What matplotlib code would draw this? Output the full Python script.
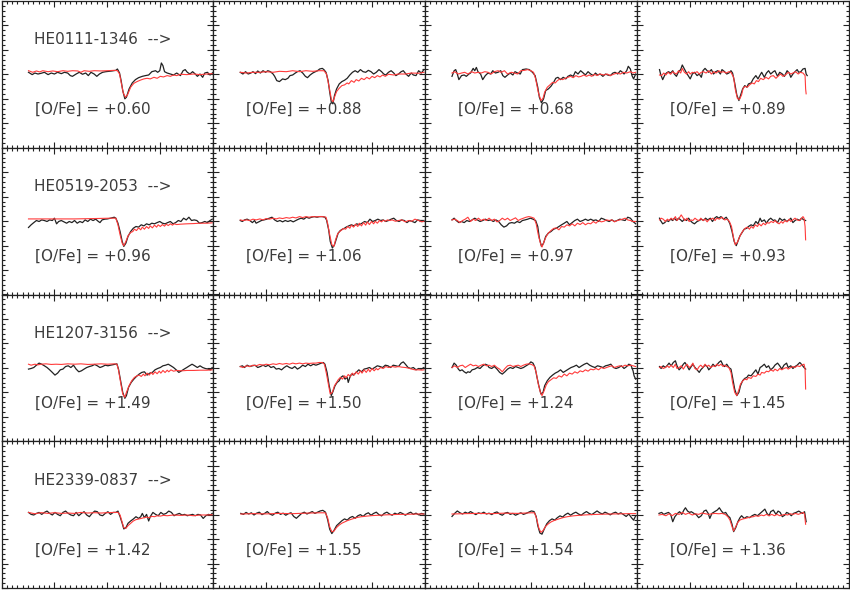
import numpy as np
import matplotlib.pyplot as plt
from matplotlib.ticker import MultipleLocator

stars = ["HE0111-1346", "HE0519-2053", "HE1207-3156", "HE2339-0837"]
ofe = [["+0.60", "+0.88", "+0.68", "+0.89"],
       ["+0.96", "+1.06", "+0.97", "+0.93"],
       ["+1.49", "+1.50", "+1.24", "+1.45"],
       ["+1.42", "+1.55", "+1.54", "+1.36"]]

# observed (black) and synthetic (red) spectra, (x, normalised flux)
obs_r1c1 = [(0.51,1.017),(0.58,0.998),(0.63,1.011),(0.69,1.003),(0.75,1.009),(0.81,1.017),(0.88,0.998),(0.94,1.011),(1.00,1.003),(1.06,1.017),(1.13,1.006),(1.19,1.017),(1.25,1.011),(1.30,0.990),(1.34,0.984),(1.41,1.003),(1.47,1.017),(1.53,1.001),(1.59,1.011),(1.64,0.990),(1.69,1.017),(1.75,1.003),(1.80,0.984),(1.85,1.003),(1.91,1.017),(1.97,1.022),(2.03,1.025),(2.09,1.028),(2.16,1.033),(2.19,1.044),(2.23,1.011),(2.26,0.949),(2.29,0.868),(2.33,0.800),(2.36,0.813),(2.41,0.881),(2.47,0.930),(2.53,0.957),(2.59,0.973),(2.66,0.984),(2.72,0.990),(2.78,0.995),(2.84,1.022),(2.91,1.030),(2.95,1.017),(2.99,1.030),(3.02,1.093),(3.05,1.071),(3.08,1.022),(3.13,1.011),(3.19,1.003),(3.25,0.995),(3.31,1.011),(3.38,0.990),(3.43,1.030),(3.47,1.039),(3.51,1.017),(3.56,1.003),(3.61,1.022),(3.66,1.003),(3.70,0.984),(3.75,1.003),(3.80,0.976),(3.84,1.011),(3.89,1.017),(3.94,0.995),(4.00,1.017)]
syn_r1c1 = [(0.51,1.030),(0.59,1.017),(0.66,1.028),(0.72,1.020),(0.78,1.030),(0.88,1.022),(0.97,1.028),(1.06,1.022),(1.16,1.030),(1.25,1.025),(1.34,1.030),(1.44,1.028),(1.50,1.017),(1.56,1.030),(1.66,1.025),(1.75,1.030),(1.88,1.028),(2.00,1.030),(2.13,1.033),(2.19,1.030),(2.23,1.003),(2.26,0.935),(2.30,0.849),(2.34,0.813),(2.38,0.832),(2.44,0.895),(2.50,0.927),(2.56,0.941),(2.63,0.954),(2.69,0.963),(2.75,0.968),(2.81,0.963),(2.88,0.976),(2.94,0.968),(3.00,0.984),(3.06,0.979),(3.13,0.990),(3.19,0.984),(3.25,0.995),(3.31,0.990),(3.38,1.001),(3.50,0.998),(3.63,1.003),(3.75,0.998),(3.88,1.003),(3.98,1.006)]

obs_r1c2 = [(0.51,1.017),(0.56,1.003),(0.61,1.022),(0.66,1.003),(0.71,1.011),(0.75,1.022),(0.80,1.006),(0.84,1.028),(0.89,1.011),(0.94,1.030),(0.99,1.017),(1.03,1.030),(1.08,1.022),(1.13,1.003),(1.16,0.984),(1.20,0.949),(1.25,0.941),(1.31,0.963),(1.36,0.957),(1.41,0.968),(1.45,0.990),(1.50,0.995),(1.55,1.011),(1.59,1.022),(1.64,1.030),(1.69,1.011),(1.74,0.984),(1.78,0.973),(1.83,0.995),(1.88,1.011),(1.93,1.022),(1.97,1.030),(2.01,1.044),(2.06,1.049),(2.09,1.039),(2.13,1.017),(2.17,0.949),(2.20,0.854),(2.23,0.773),(2.26,0.759),(2.29,0.827),(2.33,0.881),(2.38,0.922),(2.43,0.941),(2.48,0.952),(2.53,0.968),(2.58,0.995),(2.63,1.017),(2.68,1.030),(2.73,1.017),(2.78,1.039),(2.83,1.022),(2.88,1.017),(2.93,1.033),(2.98,1.022),(3.03,1.003),(3.08,1.017),(3.13,1.039),(3.18,1.022),(3.22,1.003),(3.26,0.995),(3.31,1.017),(3.36,1.030),(3.41,1.011),(3.45,0.990),(3.50,1.003),(3.55,1.022),(3.59,1.030),(3.64,1.003),(3.69,0.984),(3.74,1.011),(3.78,0.995),(3.83,0.990),(3.88,1.030),(3.93,1.011),(3.98,1.039)]
syn_r1c2 = [(0.51,1.017),(0.63,1.011),(0.75,1.017),(0.88,1.017),(1.00,1.022),(1.13,1.017),(1.25,1.025),(1.38,1.022),(1.50,1.030),(1.63,1.022),(1.75,1.030),(1.88,1.025),(2.00,1.030),(2.09,1.030),(2.14,1.003),(2.19,0.895),(2.23,0.800),(2.26,0.773),(2.29,0.813),(2.33,0.860),(2.38,0.887),(2.43,0.908),(2.48,0.914),(2.53,0.930),(2.56,0.922),(2.61,0.949),(2.66,0.935),(2.70,0.957),(2.75,0.946),(2.80,0.968),(2.85,0.957),(2.90,0.976),(2.95,0.963),(3.00,0.984),(3.05,0.973),(3.10,0.990),(3.15,0.979),(3.20,0.995),(3.25,0.984),(3.31,1.001),(3.41,0.995),(3.50,1.003),(3.63,1.003),(3.75,1.011),(3.88,1.009),(3.98,1.017)]

obs_r1c3 = [(0.51,0.984),(0.55,1.030),(0.58,1.039),(0.61,1.003),(0.64,0.957),(0.69,0.990),(0.74,0.995),(0.78,0.984),(0.83,1.003),(0.86,1.011),(0.91,1.049),(0.94,1.030),(0.97,1.057),(1.00,1.022),(1.05,1.003),(1.09,0.957),(1.14,0.990),(1.19,1.011),(1.24,1.003),(1.28,1.030),(1.33,1.011),(1.38,1.017),(1.43,1.030),(1.47,0.990),(1.51,0.976),(1.56,0.995),(1.61,1.011),(1.66,0.995),(1.70,1.022),(1.75,1.011),(1.80,1.003),(1.84,1.039),(1.91,1.044),(1.97,1.039),(2.03,1.017),(2.08,0.990),(2.13,0.895),(2.16,0.813),(2.20,0.767),(2.24,0.800),(2.28,0.868),(2.33,0.881),(2.38,0.903),(2.43,0.935),(2.47,0.968),(2.51,0.976),(2.56,0.957),(2.61,0.976),(2.66,0.963),(2.70,0.984),(2.75,0.995),(2.80,0.984),(2.84,1.022),(2.89,1.003),(2.94,1.030),(2.99,1.011),(3.03,0.995),(3.08,1.022),(3.13,1.003),(3.18,0.990),(3.22,1.011),(3.26,0.995),(3.31,1.003),(3.36,0.984),(3.41,1.003),(3.45,0.995),(3.50,0.990),(3.55,1.011),(3.59,1.017),(3.64,1.003),(3.69,1.030),(3.73,1.017),(3.76,1.003),(3.81,1.030),(3.84,1.066),(3.88,1.044),(3.91,0.990),(3.94,0.963),(3.98,1.003)]
syn_r1c3 = [(0.51,1.011),(0.56,1.022),(0.63,1.003),(0.69,1.011),(0.75,1.017),(0.81,1.003),(0.88,1.022),(0.94,1.011),(1.00,1.017),(1.06,1.011),(1.13,1.022),(1.19,1.017),(1.25,1.003),(1.31,1.022),(1.38,1.030),(1.44,1.017),(1.50,1.030),(1.56,1.003),(1.63,1.017),(1.69,1.011),(1.75,1.003),(1.81,1.030),(1.88,1.033),(1.94,1.039),(2.00,1.030),(2.05,1.017),(2.09,0.963),(2.14,0.854),(2.19,0.786),(2.23,0.805),(2.26,0.854),(2.31,0.895),(2.36,0.914),(2.41,0.935),(2.46,0.930),(2.50,0.949),(2.55,0.963),(2.60,0.957),(2.65,0.968),(2.70,0.976),(2.75,0.984),(2.80,0.973),(2.85,0.990),(2.90,0.979),(2.95,0.984),(3.00,0.995),(3.05,0.984),(3.10,0.995),(3.15,0.984),(3.20,1.001),(3.25,0.990),(3.30,1.003),(3.38,0.995),(3.44,1.003),(3.50,0.990),(3.56,1.001),(3.63,1.011),(3.69,1.003),(3.75,1.017),(3.81,1.011),(3.88,1.022),(3.93,1.011),(3.98,1.017)]

obs_r1c4 = [(0.43,1.039),(0.45,1.003),(0.49,0.957),(0.53,0.995),(0.56,1.011),(0.60,1.022),(0.64,1.011),(0.68,1.030),(0.71,1.003),(0.75,0.984),(0.79,1.022),(0.83,1.039),(0.86,1.077),(0.90,1.044),(0.94,1.011),(0.98,0.984),(1.01,0.963),(1.05,1.003),(1.09,1.017),(1.14,0.990),(1.18,1.003),(1.22,0.976),(1.25,1.030),(1.29,1.049),(1.33,1.030),(1.36,1.017),(1.41,1.039),(1.45,1.003),(1.49,1.022),(1.53,1.030),(1.58,1.003),(1.61,1.039),(1.66,1.022),(1.70,1.003),(1.74,1.011),(1.78,1.030),(1.81,1.011),(1.85,0.930),(1.89,0.832),(1.93,0.786),(1.96,0.827),(2.00,0.881),(2.04,0.908),(2.08,0.895),(2.11,0.922),(2.16,0.930),(2.20,0.963),(2.25,0.990),(2.29,0.963),(2.33,0.995),(2.36,1.017),(2.41,0.976),(2.45,1.011),(2.49,1.030),(2.53,1.003),(2.58,1.022),(2.61,1.030),(2.66,0.984),(2.70,1.017),(2.75,1.003),(2.79,0.984),(2.84,1.030),(2.88,1.011),(2.91,0.976),(2.95,1.003),(2.99,1.022),(3.03,1.039),(3.06,1.017),(3.10,1.022),(3.14,1.044),(3.18,1.049),(3.20,1.003),(3.22,0.990)]
syn_r1c4 = [(0.43,0.995),(0.47,0.990),(0.51,1.011),(0.55,0.995),(0.59,1.017),(0.64,1.001),(0.68,1.022),(0.71,1.011),(0.75,1.003),(0.79,1.030),(0.83,1.011),(0.86,1.049),(0.90,1.017),(0.94,1.003),(0.98,1.022),(1.01,1.003),(1.05,1.017),(1.09,1.011),(1.14,1.022),(1.18,1.003),(1.22,1.017),(1.26,1.022),(1.31,1.011),(1.36,1.030),(1.41,1.003),(1.45,1.022),(1.50,1.011),(1.55,1.030),(1.59,1.017),(1.64,1.022),(1.69,1.011),(1.74,1.022),(1.78,1.017),(1.83,0.976),(1.86,0.881),(1.90,0.805),(1.94,0.794),(1.98,0.832),(2.01,0.887),(2.05,0.903),(2.09,0.895),(2.13,0.914),(2.18,0.930),(2.22,0.922),(2.26,0.949),(2.30,0.941),(2.34,0.968),(2.39,0.957),(2.44,0.976),(2.49,0.963),(2.53,0.984),(2.58,0.990),(2.63,0.968),(2.68,0.990),(2.72,1.003),(2.76,0.984),(2.81,0.995),(2.86,1.017),(2.91,1.003),(2.95,1.011),(3.00,1.022),(3.05,1.003),(3.09,1.017),(3.14,1.011),(3.18,0.990),(3.19,0.881),(3.20,0.841)]

obs_r2c1 = [(0.51,0.948),(0.56,0.970),(0.61,0.988),(0.66,1.005),(0.71,0.997),(0.76,1.010),(0.81,1.005),(0.86,0.997),(0.91,1.010),(0.96,1.005),(1.00,1.024),(1.04,0.978),(1.08,0.997),(1.13,1.005),(1.18,0.994),(1.23,0.983),(1.28,0.997),(1.33,0.988),(1.38,1.005),(1.43,0.983),(1.48,0.997),(1.53,0.988),(1.58,1.010),(1.63,0.997),(1.68,1.016),(1.73,1.005),(1.78,1.016),(1.83,0.997),(1.86,0.988),(1.90,1.010),(1.95,1.016),(2.00,1.018),(2.06,1.024),(2.13,1.032),(2.16,1.024),(2.20,0.983),(2.24,0.915),(2.28,0.834),(2.31,0.793),(2.35,0.820),(2.39,0.875),(2.44,0.915),(2.49,0.942),(2.54,0.956),(2.59,0.951),(2.64,0.970),(2.69,0.961),(2.74,0.978),(2.79,0.970),(2.84,0.983),(2.89,0.978),(2.94,0.988),(2.99,0.997),(3.04,0.983),(3.09,0.978),(3.14,0.988),(3.19,0.997),(3.24,0.978),(3.29,0.988),(3.34,1.005),(3.39,0.997),(3.44,1.024),(3.49,1.010),(3.54,1.032),(3.59,1.005),(3.64,1.010),(3.69,1.005),(3.74,0.983),(3.79,0.988),(3.84,0.997),(3.89,0.988),(3.94,1.005),(3.98,1.016)]
syn_r2c1 = [(0.51,1.018),(0.94,1.018),(1.38,1.018),(1.75,1.021),(2.06,1.024),(2.16,1.024),(2.20,0.970),(2.24,0.888),(2.28,0.820),(2.31,0.799),(2.35,0.834),(2.39,0.880),(2.44,0.907),(2.48,0.915),(2.51,0.934),(2.55,0.923),(2.59,0.945),(2.63,0.929),(2.66,0.951),(2.70,0.934),(2.74,0.956),(2.78,0.940),(2.81,0.961),(2.85,0.945),(2.89,0.967),(2.93,0.951),(2.96,0.970),(3.00,0.956),(3.04,0.972),(3.08,0.959),(3.11,0.975),(3.15,0.964),(3.19,0.978),(3.23,0.967),(3.26,0.978),(3.31,0.972),(3.38,0.975),(3.50,0.978),(3.63,0.980),(3.75,0.983),(3.88,0.983),(3.98,0.986)]

obs_r2c2 = [(0.51,1.005),(0.55,0.997),(0.59,1.010),(0.64,1.016),(0.69,1.005),(0.74,0.988),(0.78,1.005),(0.81,0.983),(0.86,0.994),(0.91,1.005),(0.96,1.010),(1.01,1.016),(1.06,1.024),(1.11,1.032),(1.16,1.010),(1.21,0.997),(1.26,1.005),(1.31,0.994),(1.36,1.005),(1.41,0.997),(1.46,1.005),(1.51,0.994),(1.56,1.005),(1.61,1.016),(1.66,1.024),(1.71,1.016),(1.76,1.032),(1.81,1.024),(1.86,1.032),(1.91,1.037),(1.96,1.032),(2.01,1.037),(2.06,1.037),(2.11,1.032),(2.14,1.010),(2.18,0.929),(2.21,0.834),(2.25,0.780),(2.29,0.807),(2.33,0.861),(2.36,0.902),(2.40,0.923),(2.44,0.934),(2.48,0.942),(2.51,0.951),(2.56,0.961),(2.61,0.970),(2.66,0.961),(2.71,0.978),(2.76,0.970),(2.81,0.983),(2.86,0.997),(2.91,0.988),(2.96,1.016),(3.01,0.997),(3.06,1.005),(3.11,1.016),(3.16,1.005),(3.21,1.010),(3.26,0.997),(3.31,1.005),(3.36,1.016),(3.41,1.024),(3.46,1.005),(3.51,0.997),(3.56,1.010),(3.61,1.005),(3.66,0.988),(3.71,1.005),(3.76,0.997),(3.81,0.988),(3.86,1.010),(3.91,1.005),(3.98,1.005)]
syn_r2c2 = [(0.51,1.010),(0.56,1.005),(0.63,1.010),(0.69,1.005),(0.75,1.016),(0.81,1.010),(0.88,1.018),(0.94,1.010),(1.00,1.021),(1.06,1.016),(1.13,1.024),(1.19,1.018),(1.25,1.026),(1.31,1.021),(1.38,1.029),(1.44,1.024),(1.50,1.032),(1.56,1.026),(1.63,1.037),(1.69,1.029),(1.75,1.037),(1.81,1.032),(1.88,1.037),(1.94,1.035),(2.00,1.037),(2.06,1.037),(2.13,1.032),(2.16,0.983),(2.20,0.888),(2.24,0.807),(2.28,0.793),(2.31,0.847),(2.35,0.896),(2.39,0.915),(2.43,0.929),(2.46,0.940),(2.50,0.934),(2.54,0.956),(2.58,0.942),(2.61,0.967),(2.65,0.951),(2.69,0.975),(2.73,0.956),(2.76,0.983),(2.80,0.961),(2.84,0.988),(2.88,0.967),(2.91,0.994),(2.95,0.972),(2.99,0.997),(3.03,0.978),(3.06,0.999),(3.10,0.983),(3.14,1.005),(3.18,0.994),(3.21,1.008),(3.25,0.999),(3.29,1.010),(3.33,1.005),(3.38,1.010),(3.44,0.999),(3.50,1.005),(3.56,1.010),(3.63,0.994),(3.69,1.005),(3.75,0.999),(3.81,1.016),(3.88,1.005),(3.94,0.994),(3.98,0.999)]

obs_r2c3 = [(0.51,1.010),(0.55,1.024),(0.59,1.005),(0.64,0.988),(0.69,0.997),(0.74,0.988),(0.79,1.005),(0.84,0.997),(0.89,1.010),(0.94,1.024),(0.99,1.010),(1.04,0.997),(1.09,1.005),(1.14,1.016),(1.19,1.005),(1.24,1.010),(1.29,0.997),(1.34,1.010),(1.39,0.997),(1.44,0.970),(1.49,0.951),(1.54,0.961),(1.59,0.983),(1.64,0.988),(1.69,0.983),(1.74,0.997),(1.79,0.988),(1.84,1.005),(1.89,1.010),(1.94,1.016),(1.99,1.024),(2.04,1.016),(2.09,1.005),(2.13,0.956),(2.16,0.861),(2.20,0.793),(2.24,0.820),(2.28,0.875),(2.33,0.902),(2.38,0.915),(2.43,0.934),(2.48,0.942),(2.53,0.956),(2.58,0.970),(2.63,0.983),(2.68,0.997),(2.73,0.970),(2.78,0.988),(2.83,1.005),(2.88,1.016),(2.93,0.997),(2.98,1.005),(3.03,1.016),(3.08,1.005),(3.13,1.016),(3.18,1.005),(3.23,1.010),(3.28,0.997),(3.33,1.024),(3.38,1.016),(3.43,1.005),(3.48,0.997),(3.53,1.010),(3.58,0.997),(3.63,1.005),(3.68,1.016),(3.73,1.010),(3.78,1.005),(3.83,1.032),(3.88,1.024),(3.93,0.997),(3.98,0.978)]
syn_r2c3 = [(0.51,1.010),(0.56,1.016),(0.61,1.005),(0.66,0.988),(0.71,1.005),(0.76,1.016),(0.81,1.032),(0.86,0.997),(0.91,1.016),(0.96,1.005),(1.01,1.024),(1.06,1.005),(1.11,1.016),(1.16,1.005),(1.21,1.024),(1.26,1.005),(1.31,1.016),(1.36,0.994),(1.41,1.005),(1.46,1.024),(1.51,1.010),(1.56,1.024),(1.61,1.005),(1.66,1.016),(1.71,1.027),(1.76,1.005),(1.81,1.016),(1.86,1.024),(1.91,1.032),(1.96,1.037),(2.01,1.032),(2.06,1.024),(2.10,0.978),(2.14,0.888),(2.18,0.820),(2.21,0.788),(2.25,0.834),(2.29,0.875),(2.33,0.902),(2.38,0.923),(2.43,0.940),(2.48,0.945),(2.53,0.929),(2.58,0.956),(2.63,0.951),(2.68,0.970),(2.73,0.961),(2.78,0.978),(2.83,0.961),(2.88,0.983),(2.93,0.972),(2.98,0.988),(3.03,0.970),(3.08,0.983),(3.13,0.978),(3.18,0.997),(3.23,0.983),(3.28,1.005),(3.33,0.994),(3.38,0.999),(3.43,1.010),(3.48,1.005),(3.53,1.010),(3.58,0.994),(3.63,1.005),(3.68,1.010),(3.73,1.016),(3.78,1.024),(3.83,1.010),(3.88,1.005),(3.93,0.997),(3.98,0.997)]

obs_r2c4 = [(0.43,1.024),(0.45,1.005),(0.49,0.978),(0.53,0.988),(0.56,1.005),(0.60,0.997),(0.64,1.016),(0.68,1.005),(0.71,1.024),(0.75,1.005),(0.79,1.024),(0.83,1.010),(0.86,0.997),(0.90,1.016),(0.94,1.005),(0.98,1.024),(1.01,1.005),(1.05,0.988),(1.09,0.978),(1.14,0.997),(1.18,1.005),(1.22,1.016),(1.26,1.005),(1.30,1.024),(1.34,1.010),(1.39,1.024),(1.43,0.997),(1.47,1.024),(1.51,1.037),(1.55,1.024),(1.59,1.037),(1.64,1.016),(1.69,1.032),(1.73,1.005),(1.76,0.978),(1.80,0.915),(1.84,0.834),(1.88,0.799),(1.91,0.834),(1.95,0.880),(1.99,0.907),(2.03,0.934),(2.08,0.942),(2.11,0.956),(2.16,0.970),(2.20,0.961),(2.25,0.997),(2.29,0.978),(2.33,1.024),(2.36,0.997),(2.41,1.010),(2.45,0.983),(2.49,1.010),(2.53,1.024),(2.58,1.005),(2.61,1.010),(2.66,0.988),(2.70,1.024),(2.75,1.005),(2.79,1.016),(2.83,0.997),(2.88,1.010),(2.91,1.024),(2.95,0.988),(2.99,1.005),(3.03,1.016),(3.08,1.005),(3.11,1.024),(3.16,1.010),(3.19,1.005)]
syn_r2c4 = [(0.43,1.010),(0.46,1.024),(0.50,1.016),(0.54,0.997),(0.58,1.016),(0.61,1.005),(0.65,1.024),(0.69,1.010),(0.73,1.037),(0.76,1.005),(0.80,1.024),(0.84,1.051),(0.88,1.024),(0.91,1.005),(0.95,1.024),(0.99,0.997),(1.03,1.010),(1.06,1.005),(1.10,1.024),(1.14,1.010),(1.18,1.005),(1.21,1.024),(1.25,1.005),(1.29,1.016),(1.33,0.994),(1.36,1.010),(1.40,1.016),(1.44,1.024),(1.48,1.005),(1.51,1.024),(1.56,1.016),(1.61,1.032),(1.66,1.010),(1.71,1.016),(1.75,0.997),(1.79,0.956),(1.83,0.861),(1.86,0.807),(1.90,0.826),(1.94,0.869),(1.98,0.902),(2.01,0.923),(2.05,0.942),(2.09,0.951),(2.13,0.934),(2.16,0.956),(2.20,0.942),(2.24,0.970),(2.28,0.956),(2.31,0.978),(2.35,0.961),(2.39,0.983),(2.43,0.970),(2.46,0.988),(2.50,0.983),(2.54,0.997),(2.58,0.988),(2.61,1.005),(2.65,0.988),(2.69,0.978),(2.73,0.997),(2.76,0.983),(2.80,1.005),(2.84,0.994),(2.88,1.016),(2.91,0.997),(2.95,1.010),(2.99,1.024),(3.03,1.010),(3.06,1.005),(3.10,1.016),(3.14,1.037),(3.16,1.024),(3.18,0.956),(3.19,0.847)]

obs_r3c1 = [(0.51,0.990),(0.56,0.995),(0.61,1.003),(0.66,1.022),(0.71,1.039),(0.76,1.030),(0.81,1.017),(0.86,1.003),(0.91,0.984),(0.96,0.963),(1.01,0.941),(1.06,0.957),(1.11,0.984),(1.16,0.990),(1.21,1.011),(1.26,1.017),(1.31,1.003),(1.36,1.022),(1.41,0.990),(1.46,0.968),(1.51,0.976),(1.56,0.990),(1.61,1.003),(1.66,1.011),(1.71,1.017),(1.76,1.028),(1.81,1.017),(1.86,1.003),(1.91,1.011),(1.96,1.022),(2.01,1.017),(2.06,1.022),(2.13,1.028),(2.18,1.033),(2.21,0.990),(2.25,0.895),(2.29,0.800),(2.33,0.751),(2.36,0.773),(2.40,0.841),(2.45,0.881),(2.50,0.908),(2.55,0.930),(2.60,0.949),(2.65,0.963),(2.70,0.968),(2.75,0.941),(2.80,0.957),(2.85,0.963),(2.90,0.984),(2.95,0.995),(3.00,1.003),(3.05,1.017),(3.10,1.022),(3.15,1.030),(3.20,1.017),(3.25,1.003),(3.30,0.984),(3.35,0.963),(3.40,0.976),(3.45,0.990),(3.50,1.003),(3.55,1.017),(3.60,1.030),(3.65,1.017),(3.70,1.003),(3.75,1.017),(3.80,1.003),(3.85,0.995),(3.90,0.990),(3.95,0.984),(3.98,1.003)]
syn_r3c1 = [(0.51,1.030),(0.56,1.022),(0.63,1.030),(0.69,1.025),(0.75,1.030),(0.84,1.033),(0.94,1.028),(1.03,1.030),(1.13,1.028),(1.25,1.033),(1.38,1.030),(1.50,1.033),(1.63,1.028),(1.75,1.030),(1.88,1.033),(2.00,1.030),(2.13,1.033),(2.18,1.030),(2.21,0.984),(2.25,0.881),(2.29,0.786),(2.33,0.759),(2.36,0.800),(2.41,0.854),(2.46,0.895),(2.51,0.922),(2.56,0.935),(2.60,0.941),(2.64,0.930),(2.68,0.949),(2.71,0.935),(2.75,0.957),(2.79,0.941),(2.83,0.963),(2.86,0.946),(2.90,0.968),(2.94,0.952),(2.98,0.973),(3.01,0.957),(3.05,0.979),(3.09,0.962),(3.13,0.981),(3.16,0.968),(3.20,0.984),(3.25,0.973),(3.31,0.979),(3.41,0.976),(3.50,0.979),(3.63,0.979),(3.75,0.981),(3.88,0.981),(3.98,0.984)]

obs_r3c2 = [(0.51,1.011),(0.55,1.017),(0.59,1.003),(0.64,1.022),(0.69,1.011),(0.74,1.017),(0.79,1.022),(0.84,1.003),(0.89,1.011),(0.94,1.022),(0.99,1.011),(1.04,1.022),(1.09,1.003),(1.14,1.011),(1.19,0.990),(1.24,0.995),(1.29,0.984),(1.34,1.003),(1.39,1.017),(1.44,1.003),(1.49,0.995),(1.54,1.011),(1.59,0.990),(1.64,1.003),(1.69,1.022),(1.74,1.011),(1.79,1.030),(1.84,1.017),(1.89,1.030),(1.94,1.022),(1.99,1.030),(2.04,1.039),(2.08,1.044),(2.11,1.030),(2.15,0.963),(2.19,0.854),(2.23,0.773),(2.26,0.805),(2.30,0.854),(2.34,0.881),(2.38,0.895),(2.41,0.922),(2.45,0.935),(2.49,0.908),(2.53,0.922),(2.55,0.881),(2.58,0.922),(2.61,0.949),(2.65,0.941),(2.70,0.963),(2.75,0.984),(2.80,0.968),(2.85,0.990),(2.90,0.995),(2.95,1.003),(3.00,0.990),(3.05,1.003),(3.10,1.017),(3.15,1.011),(3.20,1.003),(3.25,1.022),(3.30,1.017),(3.35,1.003),(3.40,1.022),(3.45,1.017),(3.50,1.011),(3.55,1.039),(3.59,1.049),(3.63,1.030),(3.68,1.003),(3.73,0.995),(3.78,1.003),(3.83,0.984),(3.88,0.995),(3.93,0.990),(3.98,1.003)]
syn_r3c2 = [(0.51,1.011),(0.56,1.003),(0.63,1.017),(0.69,1.011),(0.75,1.022),(0.81,1.017),(0.88,1.028),(0.94,1.022),(1.00,1.030),(1.06,1.025),(1.13,1.033),(1.19,1.028),(1.25,1.036),(1.31,1.030),(1.38,1.036),(1.44,1.030),(1.50,1.039),(1.56,1.033),(1.63,1.039),(1.69,1.033),(1.75,1.039),(1.81,1.036),(1.88,1.039),(1.94,1.039),(2.00,1.044),(2.06,1.044),(2.10,1.030),(2.14,0.949),(2.18,0.854),(2.21,0.786),(2.25,0.800),(2.29,0.854),(2.33,0.881),(2.36,0.903),(2.40,0.922),(2.44,0.908),(2.48,0.935),(2.51,0.919),(2.55,0.946),(2.59,0.930),(2.63,0.957),(2.66,0.941),(2.70,0.968),(2.74,0.949),(2.78,0.976),(2.81,0.957),(2.85,0.984),(2.89,0.963),(2.93,0.990),(2.96,0.968),(3.00,0.995),(3.04,0.976),(3.08,0.995),(3.11,0.984),(3.16,1.003),(3.21,0.995),(3.26,1.011),(3.31,1.003),(3.38,1.011),(3.44,1.006),(3.50,1.011),(3.56,1.006),(3.63,1.003),(3.69,0.998),(3.75,0.990),(3.81,0.984),(3.88,0.984),(3.94,0.982),(3.98,0.984)]

obs_r3c3 = [(0.51,1.003),(0.55,1.039),(0.59,1.022),(0.63,0.990),(0.66,0.976),(0.70,0.984),(0.74,0.968),(0.78,0.957),(0.81,0.968),(0.85,0.963),(0.89,0.984),(0.94,0.990),(0.99,1.003),(1.04,0.995),(1.09,1.017),(1.14,1.030),(1.18,1.022),(1.21,1.003),(1.26,0.995),(1.31,1.011),(1.36,0.990),(1.41,0.963),(1.46,0.949),(1.51,0.968),(1.56,0.990),(1.61,1.003),(1.66,0.995),(1.71,1.011),(1.76,1.003),(1.81,0.995),(1.86,1.003),(1.91,1.017),(1.96,1.030),(2.00,1.049),(2.04,1.039),(2.08,1.003),(2.11,0.935),(2.15,0.854),(2.19,0.786),(2.23,0.800),(2.26,0.854),(2.31,0.895),(2.36,0.922),(2.41,0.941),(2.46,0.957),(2.51,0.968),(2.56,0.984),(2.61,0.963),(2.66,0.976),(2.71,0.990),(2.76,1.003),(2.81,1.011),(2.86,1.022),(2.91,1.003),(2.96,1.017),(3.01,1.030),(3.06,1.039),(3.11,1.022),(3.16,1.011),(3.21,1.003),(3.26,1.017),(3.31,1.011),(3.36,1.003),(3.41,1.017),(3.46,1.022),(3.51,1.030),(3.56,1.003),(3.61,0.995),(3.66,1.003),(3.71,1.017),(3.76,0.995),(3.81,1.011),(3.85,1.030),(3.89,1.022),(3.93,0.976),(3.95,0.935),(3.98,0.908)]
syn_r3c3 = [(0.51,1.003),(0.56,1.017),(0.61,1.003),(0.66,1.017),(0.71,1.022),(0.76,1.003),(0.81,1.017),(0.86,1.030),(0.91,1.017),(0.96,1.022),(1.01,1.011),(1.06,1.022),(1.11,1.030),(1.16,1.017),(1.21,1.022),(1.26,1.011),(1.31,1.022),(1.36,1.003),(1.41,0.990),(1.46,0.968),(1.51,0.995),(1.56,1.017),(1.61,1.022),(1.66,1.011),(1.71,1.017),(1.76,1.022),(1.81,1.011),(1.86,1.022),(1.91,1.030),(1.96,1.033),(2.01,1.028),(2.06,1.017),(2.10,0.963),(2.14,0.868),(2.18,0.800),(2.21,0.773),(2.25,0.813),(2.29,0.860),(2.33,0.887),(2.38,0.903),(2.43,0.919),(2.48,0.914),(2.53,0.935),(2.58,0.925),(2.63,0.949),(2.68,0.935),(2.73,0.957),(2.78,0.949),(2.83,0.968),(2.88,0.957),(2.93,0.976),(2.98,0.968),(3.03,0.984),(3.08,0.973),(3.13,0.990),(3.18,0.984),(3.23,0.995),(3.28,0.984),(3.33,1.003),(3.38,0.995),(3.43,1.003),(3.48,1.011),(3.53,1.017),(3.58,1.003),(3.63,1.011),(3.68,1.017),(3.73,1.011),(3.78,1.022),(3.83,1.017),(3.88,1.022),(3.93,1.017),(3.98,1.011)]

obs_r3c4 = [(0.43,1.011),(0.46,0.995),(0.50,1.017),(0.54,1.003),(0.58,1.022),(0.61,1.039),(0.65,1.017),(0.69,1.044),(0.73,1.058),(0.76,1.017),(0.80,0.984),(0.84,1.003),(0.88,1.030),(0.91,1.044),(0.95,1.017),(0.99,0.984),(1.03,1.011),(1.06,1.030),(1.10,1.003),(1.14,0.984),(1.18,0.963),(1.21,0.984),(1.25,1.003),(1.29,1.022),(1.33,1.011),(1.36,0.984),(1.40,1.003),(1.44,1.030),(1.48,1.011),(1.51,1.022),(1.55,1.044),(1.59,1.058),(1.63,1.022),(1.66,1.011),(1.70,1.030),(1.74,1.003),(1.78,0.990),(1.81,0.922),(1.85,0.827),(1.89,0.773),(1.93,0.800),(1.96,0.854),(2.00,0.895),(2.04,0.914),(2.08,0.922),(2.11,0.941),(2.16,0.935),(2.20,0.957),(2.25,0.984),(2.29,0.949),(2.33,1.003),(2.36,1.011),(2.41,1.030),(2.45,1.003),(2.49,1.017),(2.53,0.984),(2.58,1.003),(2.61,1.022),(2.66,1.039),(2.70,1.017),(2.74,0.990),(2.78,1.022),(2.83,1.039),(2.86,1.003),(2.91,1.017),(2.95,0.995),(2.99,1.011),(3.03,1.022),(3.08,1.044),(3.11,1.030),(3.16,1.003),(3.19,0.990)]
syn_r3c4 = [(0.43,1.003),(0.46,1.011),(0.50,0.995),(0.54,1.003),(0.58,1.017),(0.61,1.003),(0.65,1.022),(0.69,1.003),(0.73,1.030),(0.76,0.995),(0.80,1.003),(0.84,1.017),(0.88,0.990),(0.91,1.011),(0.95,1.030),(0.99,1.003),(1.03,1.017),(1.06,1.039),(1.10,0.995),(1.14,0.984),(1.18,1.011),(1.21,1.022),(1.25,1.003),(1.29,1.030),(1.33,1.011),(1.36,1.022),(1.40,1.003),(1.44,1.017),(1.48,1.011),(1.51,1.030),(1.55,1.017),(1.59,1.030),(1.63,1.011),(1.66,1.022),(1.70,1.011),(1.74,1.003),(1.78,0.963),(1.81,0.881),(1.85,0.800),(1.89,0.773),(1.93,0.822),(1.96,0.868),(2.00,0.892),(2.04,0.908),(2.08,0.903),(2.11,0.922),(2.16,0.914),(2.20,0.935),(2.25,0.930),(2.29,0.949),(2.33,0.941),(2.36,0.963),(2.41,0.957),(2.45,0.973),(2.49,0.968),(2.53,0.984),(2.58,0.973),(2.61,0.990),(2.66,0.976),(2.70,0.995),(2.74,0.984),(2.78,0.995),(2.83,1.003),(2.86,0.990),(2.91,1.003),(2.95,1.011),(2.99,1.003),(3.03,1.017),(3.08,1.011),(3.11,1.022),(3.16,1.030),(3.18,0.990),(3.19,0.827)]

obs_r4c1 = [(0.51,1.018),(0.56,1.002),(0.61,0.997),(0.66,1.010),(0.71,1.018),(0.76,1.002),(0.81,1.018),(0.86,1.029),(0.91,1.010),(0.96,0.997),(1.01,1.018),(1.06,1.002),(1.11,0.991),(1.16,1.018),(1.21,1.029),(1.26,1.010),(1.31,0.997),(1.36,0.991),(1.41,1.018),(1.46,0.991),(1.51,1.010),(1.56,1.024),(1.61,0.997),(1.66,0.983),(1.71,1.010),(1.76,1.029),(1.81,1.024),(1.86,0.997),(1.91,0.991),(1.96,1.010),(2.01,1.024),(2.06,1.002),(2.11,1.018),(2.16,1.018),(2.20,1.029),(2.24,0.983),(2.28,0.929),(2.31,0.883),(2.35,0.893),(2.39,0.929),(2.44,0.948),(2.49,0.964),(2.54,0.983),(2.59,0.969),(2.63,0.983),(2.66,1.010),(2.70,0.975),(2.74,1.002),(2.78,0.948),(2.81,0.983),(2.86,1.018),(2.91,1.002),(2.96,0.991),(3.01,1.018),(3.06,1.002),(3.11,1.010),(3.16,1.029),(3.21,1.018),(3.26,0.991),(3.31,1.002),(3.36,1.010),(3.41,0.997),(3.46,1.002),(3.51,0.991),(3.56,0.997),(3.61,1.002),(3.66,0.991),(3.71,1.002),(3.76,0.997),(3.81,0.969),(3.86,0.991),(3.91,1.002),(3.95,0.997),(3.98,1.010)]
syn_r4c1 = [(0.51,1.018),(0.63,1.007),(0.75,1.016),(0.88,1.010),(1.00,1.016),(1.13,1.010),(1.25,1.013),(1.38,1.010),(1.50,1.018),(1.63,1.013),(1.75,1.016),(1.88,1.013),(2.00,1.016),(2.13,1.018),(2.20,1.018),(2.24,0.997),(2.28,0.937),(2.31,0.893),(2.35,0.888),(2.39,0.910),(2.44,0.929),(2.49,0.948),(2.54,0.959),(2.59,0.964),(2.64,0.969),(2.69,0.975),(2.74,0.980),(2.79,0.975),(2.84,0.986),(2.89,0.983),(2.94,0.991),(3.00,0.988),(3.06,0.994),(3.13,0.991),(3.25,0.997),(3.38,0.994),(3.50,0.997),(3.63,0.991),(3.75,0.997),(3.88,0.997),(3.98,0.999)]

obs_r4c2 = [(0.52,1.010),(0.57,1.002),(0.62,1.018),(0.67,1.005),(0.72,1.015),(0.77,0.997),(0.82,1.012),(0.87,1.020),(0.92,1.000),(0.97,1.010),(1.02,1.025),(1.07,1.005),(1.12,0.995),(1.17,1.012),(1.22,1.020),(1.27,1.002),(1.32,1.012),(1.37,0.995),(1.42,1.008),(1.47,1.015),(1.52,0.985),(1.57,0.970),(1.62,0.990),(1.67,1.010),(1.72,1.020),(1.77,1.005),(1.82,1.015),(1.87,1.025),(1.92,1.010),(1.97,1.020),(2.02,1.030),(2.07,1.035),(2.12,1.020),(2.16,0.960),(2.20,0.880),(2.24,0.845),(2.28,0.870),(2.33,0.910),(2.38,0.930),(2.43,0.950),(2.48,0.965),(2.53,0.955),(2.58,0.975),(2.63,0.985),(2.68,0.970),(2.73,0.990),(2.78,1.000),(2.83,0.985),(2.88,1.005),(2.93,1.015),(2.98,0.995),(3.03,1.010),(3.08,1.020),(3.13,1.000),(3.18,0.990),(3.23,1.010),(3.28,1.020),(3.33,1.005),(3.38,0.995),(3.43,1.012),(3.48,1.002),(3.53,1.018),(3.58,1.008),(3.63,0.995),(3.68,1.010),(3.73,1.020),(3.78,1.002),(3.83,1.012),(3.88,0.998),(3.93,1.010),(3.98,1.005)]
syn_r4c2 = [(0.52,1.005),(0.75,1.008),(1.00,1.006),(1.25,1.010),(1.50,1.008),(1.75,1.012),(2.00,1.015),(2.12,1.015),(2.16,0.975),(2.20,0.900),(2.24,0.860),(2.28,0.865),(2.33,0.895),(2.38,0.915),(2.43,0.930),(2.48,0.940),(2.53,0.950),(2.58,0.958),(2.63,0.965),(2.68,0.972),(2.73,0.978),(2.80,0.983),(2.90,0.988),(3.00,0.992),(3.13,0.995),(3.25,0.998),(3.38,1.000),(3.50,1.002),(3.63,1.002),(3.75,1.004),(3.88,1.005),(3.98,1.005)]

obs_r4c3 = [(0.51,0.985),(0.56,1.010),(0.61,1.030),(0.66,1.015),(0.71,1.005),(0.76,1.020),(0.81,1.010),(0.86,1.025),(0.91,1.012),(0.96,1.000),(1.01,1.015),(1.06,1.008),(1.11,1.020),(1.16,1.005),(1.21,1.012),(1.26,1.000),(1.31,1.015),(1.36,1.022),(1.41,1.005),(1.46,0.995),(1.51,1.012),(1.56,1.018),(1.61,1.002),(1.66,1.010),(1.71,0.995),(1.76,1.005),(1.81,1.015),(1.86,1.002),(1.91,1.010),(1.96,1.020),(2.01,1.030),(2.06,1.025),(2.10,0.985),(2.13,0.910),(2.17,0.850),(2.21,0.840),(2.25,0.880),(2.30,0.925),(2.35,0.950),(2.40,0.965),(2.45,0.955),(2.50,0.975),(2.55,0.990),(2.60,0.980),(2.65,1.000),(2.70,1.012),(2.75,0.995),(2.80,1.010),(2.85,1.020),(2.90,1.005),(2.95,0.995),(3.00,1.012),(3.05,1.025),(3.10,1.010),(3.15,1.000),(3.20,1.015),(3.25,1.030),(3.30,1.015),(3.35,1.005),(3.40,1.020),(3.45,1.010),(3.50,0.998),(3.55,1.012),(3.60,1.020),(3.65,1.005),(3.70,1.015),(3.75,1.000),(3.80,0.985),(3.85,1.005),(3.90,0.975),(3.94,0.955),(3.98,0.990)]
syn_r4c3 = [(0.51,1.005),(0.75,1.008),(1.00,1.010),(1.25,1.008),(1.50,1.012),(1.75,1.010),(2.00,1.015),(2.07,1.015),(2.11,0.965),(2.15,0.890),(2.19,0.855),(2.23,0.870),(2.28,0.905),(2.33,0.925),(2.38,0.940),(2.43,0.950),(2.48,0.958),(2.53,0.965),(2.58,0.972),(2.63,0.978),(2.70,0.984),(2.80,0.990),(2.90,0.994),(3.00,0.997),(3.13,1.000),(3.25,1.002),(3.38,1.004),(3.50,1.005),(3.63,1.006),(3.75,1.007),(3.88,1.008),(3.98,1.008)]

obs_r4c4 = [(0.42,1.010),(0.47,1.018),(0.51,1.002),(0.55,1.010),(0.60,1.018),(0.64,1.002),(0.68,0.942),(0.72,0.983),(0.77,1.010),(0.81,1.024),(0.85,1.002),(0.89,1.037),(0.92,1.056),(0.96,1.029),(1.00,1.018),(1.03,1.024),(1.08,1.010),(1.12,1.002),(1.17,0.975),(1.22,0.991),(1.27,1.029),(1.31,1.037),(1.35,1.010),(1.38,0.969),(1.42,1.010),(1.47,1.024),(1.52,1.037),(1.56,1.056),(1.60,1.029),(1.64,1.010),(1.68,1.018),(1.72,0.991),(1.76,0.975),(1.80,0.921),(1.83,0.861),(1.87,0.893),(1.91,0.942),(1.95,0.975),(1.98,0.991),(2.03,0.969),(2.08,0.983),(2.13,0.975),(2.18,0.991),(2.23,1.002),(2.28,0.991),(2.33,1.010),(2.38,1.029),(2.42,1.045),(2.46,1.010),(2.50,0.991),(2.53,1.024),(2.58,1.037),(2.63,1.002),(2.67,1.029),(2.71,1.018),(2.75,0.983),(2.80,0.997),(2.83,1.018),(2.87,1.010),(2.92,0.991),(2.96,1.010),(3.01,1.018),(3.06,1.029),(3.10,1.018),(3.13,1.010),(3.17,1.024),(3.20,0.942)]
syn_r4c4 = [(0.42,0.997),(0.48,1.002),(0.55,0.991),(0.61,1.007),(0.67,0.991),(0.73,1.010),(0.80,1.002),(0.86,1.018),(0.92,1.002),(0.98,1.013),(1.05,0.997),(1.11,1.007),(1.17,1.002),(1.23,1.013),(1.30,1.007),(1.36,1.002),(1.42,1.007),(1.48,1.010),(1.55,1.007),(1.61,1.010),(1.67,1.002),(1.72,0.983),(1.76,0.956),(1.80,0.902),(1.83,0.866),(1.87,0.902),(1.91,0.937),(1.95,0.956),(2.00,0.964),(2.05,0.969),(2.10,0.975),(2.15,0.980),(2.20,0.983),(2.25,0.991),(2.30,0.986),(2.35,0.997),(2.40,0.991),(2.45,1.002),(2.50,0.991),(2.55,1.002),(2.60,0.991),(2.65,1.002),(2.70,0.991),(2.75,0.997),(2.80,1.002),(2.85,0.997),(2.90,1.007),(2.95,1.002),(3.00,1.010),(3.05,1.002),(3.10,1.010),(3.15,1.018),(3.17,1.002),(3.19,0.921)]

observed = [[obs_r1c1, obs_r1c2, obs_r1c3, obs_r1c4],
            [obs_r2c1, obs_r2c2, obs_r2c3, obs_r2c4],
            [obs_r3c1, obs_r3c2, obs_r3c3, obs_r3c4],
            [obs_r4c1, obs_r4c2, obs_r4c3, obs_r4c4]]
synthetic = [[syn_r1c1, syn_r1c2, syn_r1c3, syn_r1c4],
             [syn_r2c1, syn_r2c2, syn_r2c3, syn_r2c4],
             [syn_r3c1, syn_r3c2, syn_r3c3, syn_r3c4],
             [syn_r4c1, syn_r4c2, syn_r4c3, syn_r4c4]]

fig, axes = plt.subplots(4, 4, figsize=(8.5, 5.9), dpi=100)
fig.subplots_adjust(left=1.5/850, right=1-1.5/850, bottom=2/590, top=1-1/590,
                    wspace=0, hspace=0)

text_color = '#3c3c3c'
for i in range(4):
    for j in range(4):
        ax = axes[i, j]
        o = np.array(observed[i][j])
        s = np.array(synthetic[i][j])
        ax.plot(o[:, 0], o[:, 1], color='#222222', lw=0.9)
        ax.plot(s[:, 0], s[:, 1], color='#ff3b3b', lw=0.8)
        ax.set_xlim(0, 4)
        ax.set_ylim(0.4, 1.6)
        ax.xaxis.set_major_locator(MultipleLocator(1))
        ax.xaxis.set_minor_locator(MultipleLocator(0.1))
        ax.yaxis.set_major_locator(MultipleLocator(0.2))
        ax.yaxis.set_minor_locator(MultipleLocator(0.04))
        ax.tick_params(which='both', direction='in', top=True, right=True,
                       labelbottom=False, labelleft=False, width=0.8, color='#222222')
        ax.tick_params(which='major', length=4)
        ax.tick_params(which='minor', length=2)
        for sp in ax.spines.values():
            sp.set_linewidth(0.9)
            sp.set_color('#222222')
        if j == 0:
            ax.text(0.155, 0.735, stars[i] + "  -->", transform=ax.transAxes,
                    ha='left', va='center', fontsize=11, color=text_color)
        ax.text(0.156, 0.26, "[O/Fe] = " + ofe[i][j], transform=ax.transAxes,
                ha='left', va='center', fontsize=11, color=text_color)

fig.savefig("out.png", dpi=100)
